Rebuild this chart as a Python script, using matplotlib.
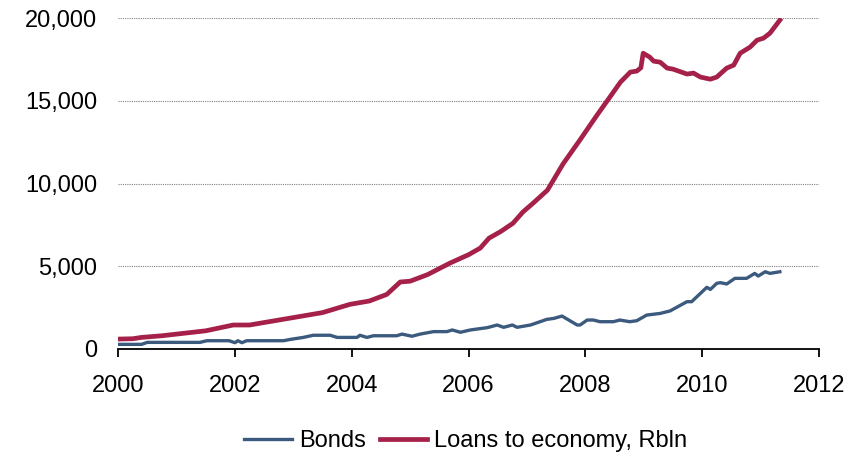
import matplotlib
matplotlib.use('Agg')
import matplotlib.pyplot as plt
from matplotlib.ticker import FuncFormatter

plt.rcParams['font.family'] = ['Liberation Sans', 'DejaVu Sans']

# Loans to economy, Rbln (decimal year, value)
loans_x = [2000.0, 2000.25, 2000.4, 2000.75, 2001.0, 2001.5, 2001.97, 2002.25,
           2002.5, 2003.0, 2003.5, 2003.97, 2004.3, 2004.6, 2004.83, 2005.0,
           2005.3, 2005.68, 2006.0, 2006.2, 2006.35, 2006.55, 2006.76, 2006.93,
           2007.1, 2007.35, 2007.62, 2007.9, 2008.2, 2008.42, 2008.6, 2008.77,
           2008.88, 2008.95, 2008.99, 2009.1, 2009.17, 2009.28, 2009.4, 2009.5,
           2009.74, 2009.85, 2009.97, 2010.14, 2010.25, 2010.42, 2010.54,
           2010.65, 2010.82, 2010.94, 2011.05, 2011.16, 2011.33]
loans = [600, 620, 700, 800, 900, 1100, 1450, 1450,
         1600, 1900, 2200, 2700, 2900, 3300, 4050, 4100,
         4500, 5190, 5700, 6100, 6700, 7100, 7600, 8280,
         8800, 9600, 11200, 12600, 14140, 15230, 16130, 16740,
         16800, 17000, 17880, 17650, 17400, 17340, 16980, 16920,
         16620, 16680, 16440, 16310, 16440, 16980, 17160,
         17880, 18250, 18670, 18790, 19090, 19880]

# Bonds (decimal year, value)
bonds_x = [2000.0, 2000.4, 2000.5, 2001.4, 2001.52, 2001.9, 2002.0, 2002.05,
           2002.12, 2002.2, 2002.83, 2002.95, 2003.17, 2003.34, 2003.63, 2003.75,
           2004.09, 2004.14, 2004.26, 2004.37, 2004.77, 2004.86, 2005.03, 2005.17,
           2005.4, 2005.63, 2005.72, 2005.86, 2006.03, 2006.32, 2006.49, 2006.6,
           2006.75, 2006.83, 2007.06, 2007.34, 2007.46, 2007.6, 2007.86, 2007.91,
           2008.03, 2008.14, 2008.25, 2008.48, 2008.59, 2008.76, 2008.88, 2009.05,
           2009.28, 2009.45, 2009.74, 2009.82, 2010.08, 2010.14, 2010.25, 2010.31,
           2010.42, 2010.56, 2010.76, 2010.9, 2010.96, 2011.08, 2011.16, 2011.33]
bonds = [280, 280, 400, 400, 500, 500, 380, 500,
         380, 500, 500, 580, 700, 830, 830, 700,
         700, 830, 700, 800, 800, 900, 770, 900,
         1050, 1050, 1150, 1010, 1150, 1290, 1450, 1310,
         1450, 1310, 1450, 1790, 1850, 1990, 1450, 1450,
         1750, 1750, 1650, 1650, 1750, 1650, 1710, 2050,
         2150, 2300, 2860, 2860, 3730, 3600, 3970, 4010,
         3930, 4270, 4270, 4570, 4410, 4670, 4570, 4670]

fig = plt.figure(figsize=(8.5, 4.54), dpi=100)
ax = fig.add_axes([0.139, 0.2313, 0.8245, 0.7287])

ax.plot(bonds_x, bonds, color='#3c5a7d', linewidth=2.4, label='Bonds',
        solid_joinstyle='round')
ax.plot(loans_x, loans, color='#a52149', linewidth=3.4,
        label='Loans to economy, Rbln', solid_joinstyle='round')

ax.set_xlim(2000, 2012)
ax.set_ylim(0, 20000)
ax.set_xticks(range(2000, 2013, 2))
ax.set_yticks(range(0, 20001, 5000))
ax.yaxis.set_major_formatter(FuncFormatter(lambda v, p: f'{int(v):,}'))

ax.grid(axis='y', color='#808080', linestyle=(0, (1, 1)), linewidth=0.8)
ax.set_axisbelow(True)
for s in ['top', 'right', 'left']:
    ax.spines[s].set_visible(False)
ax.spines['bottom'].set_linewidth(1.3)
ax.tick_params(axis='y', length=0, labelsize=17, pad=15)
ax.tick_params(axis='x', length=6, width=1.3, direction='out',
               labelsize=17, pad=13)

fig.legend(loc='center', bbox_to_anchor=(0.548, 0.029), ncol=2,
           frameon=False, fontsize=17, handlelength=2.0, handletextpad=0.3,
           columnspacing=0.6)

fig.savefig('out.png', dpi=100)
